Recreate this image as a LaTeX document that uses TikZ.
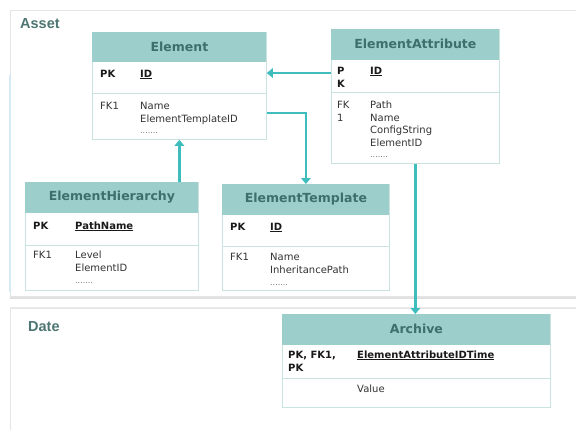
\documentclass[tikz,border=0pt]{standalone}
\usepackage{fontspec}
\setmainfont{DejaVu Sans}
\newfontfamily\titlefont{Liberation Sans}
\usetikzlibrary{arrows.meta,calc}
\definecolor{hdrfill}{HTML}{9CCFCB}
\definecolor{hdrtext}{HTML}{3E6F6C}
\definecolor{conncol}{HTML}{3FBDBD}
\definecolor{tblline}{HTML}{C9E3E1}
\definecolor{paneltext}{HTML}{4D7672}
\definecolor{edgeblue}{HTML}{D6EAF5}
\tikzset{
  tbl/.style={draw=tblline, line width=0.8pt, inner sep=0pt, anchor=north west},
  hdr/.style={fill=hdrfill},
  rowline/.style={draw=tblline, line width=0.8pt},
  title/.style={font=\fontsize{12.5}{14}\selectfont\bfseries, text=hdrtext},
  cell/.style={font=\fontsize{10}{12.8}\selectfont, anchor=base west, inner sep=0pt, text=black!80},
  cellb/.style={cell, font=\fontsize{10}{13}\selectfont\bfseries, text=black!90},
  dots/.style={font=\fontsize{8}{8}\selectfont, anchor=base west, inner sep=0pt, text=black!55},
  conn/.style={draw=conncol, line width=2.6pt, -{Triangle[length=6pt,width=9.5pt]}},
  panel/.style={draw=black!10, line width=0.6pt},
  ptitle/.style={font=\titlefont\fontsize{14.5}{16}\selectfont\bfseries, text=paneltext, anchor=base west, inner sep=0pt}
}
\begin{document}
\begin{tikzpicture}[x=1pt,y=-1pt]
\useasboundingbox (0,0) rectangle (576,429);
\fill[white] (0,0) rectangle (576,429);
% panels
\fill[black!12] (10,296) rectangle (576,299);
\draw[panel] (10,10) rectangle (577,296);
\draw[draw=edgeblue, line width=2.5pt] (10,75) -- (10,292);
\fill[black!8] (10,307) rectangle (576,309);
\draw[panel] (10,308) rectangle (577,430);
\node[ptitle] (asset) at (20,28) {Asset};
\node[ptitle] (date) at (28,331) {Date};

% Element
\node[tbl, minimum width=174pt, minimum height=107pt] (element) at (92,32) {};
\fill[hdr] ($(element.north west)+(0.4,0.4)$) rectangle ++(173.2,30);
\draw[rowline] ($(element.north west)+(0,61)$) -- ++(174,0);
\node[title] (elementT) at ($(element.north)+(0,15)$) {Element};
\node[cellb] (elementPK) at (100,77) {PK};
\node[cellb] (elementID) at (140,77) {\underline{ID}};
\node[cell] (elementFK) at (100,109) {FK1};
\node[cell] (elementF1) at (140,109) {Name};
\node[cell] (elementF2) at (140,122) {ElementTemplateID};
\node[dots] (elementD) at (140,133) {.......};

% ElementAttribute
\node[tbl, minimum width=168pt, minimum height=134pt] (ea) at (331,29) {};
\fill[hdr] ($(ea.north west)+(0.4,0.4)$) rectangle ++(167.2,31);
\draw[rowline] ($(ea.north west)+(0,63)$) -- ++(168,0);
\node[title] (eaT) at ($(ea.north)+(0,15)$) {ElementAttribute};
\node[cellb] (eaPK1) at (337,74) {P};
\node[cellb] (eaPK2) at (337,87) {K};
\node[cellb] (eaID) at (370,74) {\underline{ID}};
\node[cell] (eaFK1) at (337,108) {FK};
\node[cell] (eaFK2) at (337,121) {1};
\node[cell] (eaF1) at (370,108) {Path};
\node[cell] (eaF2) at (370,121) {Name};
\node[cell] (eaF3) at (370,133.5) {ConfigString};
\node[cell] (eaF4) at (370,146) {ElementID};
\node[dots] (eaD) at (370,157) {.......};

% ElementHierarchy
\node[tbl, minimum width=173pt, minimum height=108pt] (eh) at (25,182) {};
\fill[hdr] ($(eh.north west)+(0.4,0.4)$) rectangle ++(172.2,31);
\draw[rowline] ($(eh.north west)+(0,63)$) -- ++(173,0);
\node[title] (ehT) at ($(eh.north)+(0,15)$) {ElementHierarchy};
\node[cellb] (ehPK) at (33,229) {PK};
\node[cellb] (ehID) at (75,229) {\underline{PathName}};
\node[cell] (ehFK) at (33,258) {FK1};
\node[cell] (ehF1) at (75,258) {Level};
\node[cell] (ehF2) at (75,271) {ElementID};
\node[dots] (ehD) at (75,283) {.......};

% ElementTemplate
\node[tbl, minimum width=167pt, minimum height=106pt] (et) at (222,184) {};
\fill[hdr] ($(et.north west)+(0.4,0.4)$) rectangle ++(166.2,31);
\draw[rowline] ($(et.north west)+(0,62)$) -- ++(167,0);
\node[title] (etT) at ($(et.north)+(0,15)$) {ElementTemplate};
\node[cellb] (etPK) at (230,230) {PK};
\node[cellb] (etID) at (270,230) {\underline{ID}};
\node[cell] (etFK) at (230,260) {FK1};
\node[cell] (etF1) at (270,260) {Name};
\node[cell] (etF2) at (270,273) {InheritancePath};
\node[dots] (etD) at (270,285) {.......};

% Archive
\node[tbl, minimum width=268pt, minimum height=93pt] (ar) at (282,314) {};
\fill[hdr] ($(ar.north west)+(0.4,0.4)$) rectangle ++(267.2,31);
\draw[rowline] ($(ar.north west)+(0,64)$) -- ++(268,0);
\node[title] (arT) at ($(ar.north)+(0,15)$) {Archive};
\node[cellb] (arPK1) at (288,358) {PK, FK1,};
\node[cellb] (arPK2) at (288,371) {PK};
\node[cellb] (arID) at (357,358) {\underline{ElementAttributeIDTime}};
\node[cell] (arV) at (357,392) {Value};

% connectors
\draw[conn] ($(ea.north west)+(0,44)$) -- ($(element.north east)+(0,41)$);
\draw[conn] ($(element.north east)+(0,81)$) -| (et.north);
\draw[conn] (element.south |- eh.north) -- (element.south);
\draw[conn] (ea.south) -- (ea.south |- ar.north);
\end{tikzpicture}
\end{document}
